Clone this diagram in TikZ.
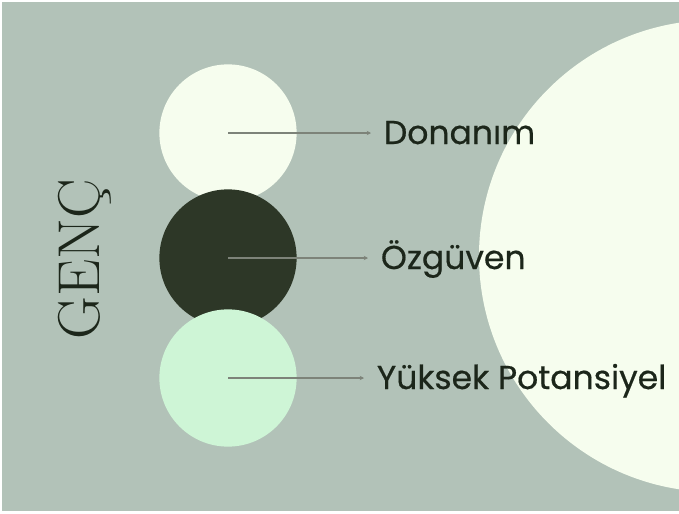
\documentclass[tikz,border=0pt]{standalone}
\usepackage{fontspec}
\newfontfamily\lblfont[FakeBold=0.5]{Poppins}
\usetikzlibrary{arrows.meta,positioning}
\definecolor{gnbg}{RGB}{178,194,184}
\definecolor{gncream}{RGB}{246,253,238}
\definecolor{gndark}{RGB}{45,55,39}
\definecolor{gnmint}{RGB}{206,245,214}
\definecolor{gntext}{RGB}{28,38,26}
\definecolor{gnline}{RGB}{125,131,121}

\begin{document}
\begin{tikzpicture}[x=0.025cm,y=-0.025cm,
      c/.style={circle,draw=none,minimum size=3.43cm,inner sep=0pt},
      l/.style={anchor=base west,inner xsep=9pt,inner ysep=0pt,text=gntext,
        font=\lblfont\fontsize{23.5}{26}\selectfont},
      a/.style={-{Stealth[length=3pt,width=3pt]},line width=.9pt,draw=gnline}]
      \useasboundingbox (0,0) rectangle (679,514);
      \fill[white] (0,0) rectangle (679,514);
      \fill[gnbg] (2,2) rectangle (679,511);
      \fill[gncream] (715,256) circle[radius=236];
      % the three circles, each one over the one above it
      \node[c,fill=gncream] (don) at (228,133) {};
      \node[c,fill=gndark] (ozg) at (228,258) {};
      \node[c,fill=gnmint] (yuk) at (228,378) {};
      \node[l] (tdon) at (371,144) {Donanım};
      \node[l] (tozg) at (368,269) {Özgüven};
      \node[l] (tyuk) at (364,389) {Yüksek Potansiyel};
      \draw[a] (don.center)--(don.center -| tdon.west);
      \draw[a] (ozg.center)--(ozg.center -| tozg.west);
      \draw[a] (yuk.center)--(yuk.center -| tyuk.west);
      \node[rotate=90,anchor=base,inner sep=0pt,text=gntext,
        font=\fontsize{42}{44}\selectfont] (genc) at (99,259) {GENÇ};
    \end{tikzpicture}
\end{document}
